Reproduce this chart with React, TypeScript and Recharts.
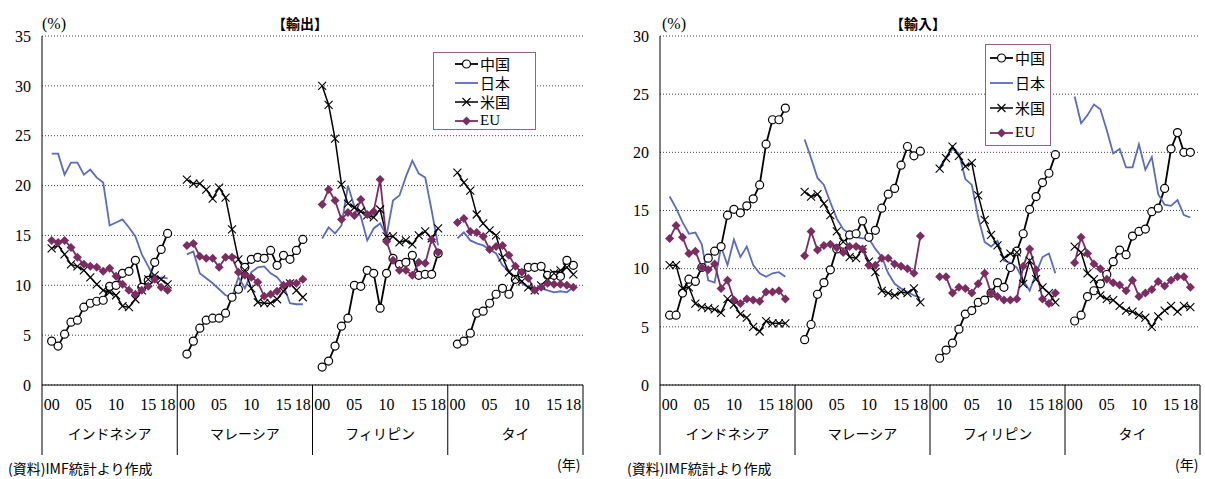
import React from 'react';
import { LineChart, Line, XAxis, YAxis, CartesianGrid } from 'recharts';

const countries = ['インドネシア', 'マレーシア', 'フィリピン', 'タイ'];
const years = ['00', '01', '02', '03', '04', '05', '06', '07', '08', '09', '10', '11', '12', '13', '14', '15', '16', '17', '18'];
const yearLabels = ['00', '05', '10', '15', '18'];
const exportTicks = [0, 5, 10, 15, 20, 25, 30, 35];
const importTicks = [0, 5, 10, 15, 20, 25, 30];

// 輸出シェア (%), one row per country, 2000-2018
const exportChina = [
  [4.4, 3.9, 5.1, 6.3, 6.5, 7.8, 8.2, 8.4, 8.5, 9.9, 10.0, 11.2, 11.4, 12.5, 9.8, 10.5, 12.3, 13.6, 15.2],
  [3.1, 4.4, 5.7, 6.5, 6.7, 6.7, 7.2, 8.8, 9.6, 11.8, 12.6, 12.8, 12.7, 13.5, 12.0, 13.0, 12.6, 13.5, 14.6],
  [1.8, 2.4, 3.9, 5.9, 6.7, 10.0, 9.9, 11.5, 11.2, 7.7, 11.2, 12.7, 12.1, 12.3, 13.0, 11.0, 11.1, 11.1, 13.2],
  [4.1, 4.4, 5.2, 7.2, 7.4, 8.2, 9.1, 9.7, 9.1, 10.6, 11.2, 11.8, 11.8, 11.9, 11.0, 11.0, 10.9, 12.5, 12.0],
];
const exportJapan = [
  [23.2, 23.2, 21.1, 22.3, 22.3, 21.1, 21.6, 20.8, 20.3, 16.0, 16.3, 16.6, 15.8, 14.9, 13.1, 11.9, 10.6, 10.8, 10.7],
  [13.1, 13.4, 11.2, 10.7, 10.2, 9.6, 9.0, 8.8, 10.8, 9.7, 11.3, 11.8, 11.9, 11.2, 10.8, 10.0, 8.2, 8.1, 8.1],
  [14.7, 15.8, 15.2, 16.0, 20.0, 17.9, 16.9, 14.5, 15.7, 16.2, 15.0, 18.5, 19.0, 20.9, 22.5, 21.2, 20.8, 17.5, 14.0],
  [14.7, 15.3, 14.5, 14.2, 14.0, 13.6, 13.2, 12.0, 11.5, 10.5, 10.2, 9.8, 9.7, 9.7, 9.5, 9.3, 9.4, 9.3, 9.8],
];
const exportUS = [
  [13.7, 14.0, 13.1, 12.1, 11.9, 11.5, 10.8, 10.1, 9.5, 9.3, 9.0, 7.9, 7.8, 8.6, 9.5, 10.6, 11.0, 10.6, 10.1],
  [20.6, 20.2, 20.2, 19.6, 18.7, 19.8, 18.8, 15.6, 12.6, 11.5, 9.7, 8.3, 8.2, 8.2, 8.6, 9.4, 10.2, 9.5, 8.8],
  [30.0, 28.1, 24.7, 20.1, 18.2, 17.8, 17.4, 17.0, 16.8, 17.6, 14.9, 14.9, 14.3, 14.5, 14.1, 15.0, 15.4, 14.7, 15.7],
  [21.3, 20.3, 19.5, 17.1, 16.2, 15.5, 15.0, 12.8, 11.3, 10.8, 10.4, 9.8, 9.5, 10.0, 10.6, 11.2, 11.5, 11.8, 11.1],
];
const exportEU = [
  [14.5, 14.3, 14.5, 13.8, 12.8, 12.1, 11.9, 11.8, 11.4, 11.7, 10.9, 10.1, 9.5, 9.1, 9.5, 9.9, 10.6, 9.8, 9.5],
  [14.0, 14.2, 12.9, 12.7, 12.7, 11.8, 12.8, 12.8, 11.3, 11.0, 10.8, 10.3, 8.9, 9.1, 9.4, 10.0, 10.2, 10.2, 10.6],
  [18.1, 19.6, 18.5, 16.6, 17.3, 17.0, 18.6, 17.1, 17.4, 20.6, 14.4, 12.5, 11.5, 11.5, 11.0, 12.3, 12.2, 14.6, 13.3],
  [16.3, 16.7, 15.4, 15.3, 14.9, 13.6, 13.9, 14.0, 13.0, 11.9, 11.3, 10.7, 9.5, 9.8, 10.2, 10.1, 10.1, 10.0, 9.8],
];

// 輸入シェア (%)
const importChina = [
  [6.0, 6.0, 7.9, 9.1, 8.9, 10.1, 10.9, 11.5, 11.9, 14.6, 15.1, 14.8, 15.4, 16.0, 17.2, 20.7, 22.8, 22.8, 23.8],
  [3.9, 5.2, 7.8, 8.8, 9.9, 11.7, 12.1, 12.9, 13.0, 14.1, 12.7, 13.3, 15.2, 16.4, 16.9, 18.9, 20.5, 19.7, 20.1],
  [2.3, 3.0, 3.6, 4.8, 6.1, 6.4, 7.1, 7.3, 7.9, 8.8, 8.4, 10.1, 11.5, 13.0, 15.1, 16.2, 17.4, 18.2, 19.8],
  [5.5, 6.0, 7.6, 8.1, 8.7, 9.5, 10.6, 11.6, 11.2, 12.8, 13.2, 13.4, 14.9, 15.2, 16.9, 20.3, 21.7, 20.0, 20.0],
];
const importJapan = [
  [16.2, 15.2, 14.0, 13.0, 13.1, 12.1, 9.0, 8.8, 11.9, 10.3, 12.5, 11.0, 11.9, 10.3, 9.6, 9.3, 9.6, 9.7, 9.3],
  [21.1, 19.5, 17.8, 17.2, 15.7, 14.3, 13.4, 13.0, 12.7, 12.6, 12.6, 11.7, 11.0, 9.6, 8.7, 8.3, 8.0, 7.7, 7.5],
  [18.7, 19.6, 20.3, 19.9, 17.7, 17.2, 14.4, 12.3, 11.9, 12.4, 10.7, 10.5, 10.1, 9.0, 8.1, 9.6, 11.0, 11.3, 9.6],
  [24.8, 22.5, 23.2, 24.1, 23.7, 21.9, 19.9, 20.3, 18.7, 18.7, 20.7, 18.5, 19.6, 16.4, 15.5, 15.4, 15.9, 14.6, 14.4],
];
const importUS = [
  [10.3, 10.3, 8.3, 8.4, 7.0, 6.7, 6.6, 6.5, 6.2, 7.4, 6.9, 6.1, 5.8, 5.0, 4.6, 5.5, 5.3, 5.3, 5.3],
  [16.6, 16.2, 16.4, 15.6, 14.6, 13.2, 12.3, 11.0, 10.9, 11.7, 10.6, 9.7, 8.1, 7.9, 7.7, 8.0, 7.9, 8.3, 7.1],
  [18.6, 19.5, 20.5, 19.7, 18.8, 19.1, 16.3, 14.2, 12.9, 12.0, 10.9, 11.3, 11.4, 8.7, 10.7, 9.1, 8.4, 7.9, 7.1],
  [11.9, 11.4, 9.6, 9.1, 7.7, 7.4, 7.3, 6.8, 6.4, 6.3, 6.0, 5.8, 5.0, 5.9, 6.4, 6.8, 6.3, 6.8, 6.7],
];
const importEU = [
  [12.6, 13.7, 12.7, 11.3, 11.5, 10.1, 9.9, 10.4, 8.3, 9.0, 7.3, 7.0, 7.4, 7.3, 7.2, 8.0, 8.0, 8.1, 7.4],
  [11.1, 13.2, 11.6, 12.0, 12.1, 11.8, 11.4, 11.9, 11.9, 11.7, 10.3, 10.3, 10.9, 10.9, 10.4, 10.2, 10.0, 9.6, 12.8],
  [9.3, 9.3, 7.9, 8.4, 8.3, 7.9, 8.7, 9.6, 7.9, 7.6, 7.3, 7.3, 7.4, 10.2, 11.7, 9.9, 7.4, 7.0, 7.9],
  [10.5, 12.7, 11.3, 10.4, 10.0, 9.1, 8.8, 8.6, 8.1, 9.0, 7.6, 7.9, 8.2, 8.9, 8.5, 9.0, 9.3, 9.3, 8.4],
];

const SERIF = '"Liberation Serif", "Times New Roman", serif';
const JP = '"Noto Sans CJK JP", sans-serif';

const series = [
  { key: 'china', name: '中国', color: '#000000', width: 1.8, marker: 'circle' },
  { key: 'japan', name: '日本', color: '#5b6bbf', width: 1.8, marker: 'none' },
  { key: 'us', name: '米国', color: '#000000', width: 1.5, marker: 'cross' },
  { key: 'eu', name: 'EU', color: '#7b2d62', width: 1.8, marker: 'diamond' },
];

// each country block: one empty slot, 19 years, one empty slot
const slots = years.length + 2;
const totalSlots = slots * countries.length;

function buildRows(sets: Record<string, number[][]>) {
  const rows: any[] = [];
  countries.forEach((_, g) => {
    years.forEach((_, i) => {
      const row: any = { x: g * slots + 1.5 + i };
      series.forEach((s) => (row[s.key] = sets[s.key][g][i]));
      rows.push(row);
    });
    if (g < countries.length - 1) {
      const gap: any = { x: (g + 1) * slots };
      series.forEach((s) => (gap[s.key] = null));
      rows.push(gap);
    }
  });
  return rows;
}

const exportRows = buildRows({ china: exportChina, japan: exportJapan, us: exportUS, eu: exportEU });
const importRows = buildRows({ china: importChina, japan: importJapan, us: importUS, eu: importEU });

const tickInfo = new Map<number, { kind: string; label: string }>();
countries.forEach((c, g) => {
  tickInfo.set(g * slots, { kind: 'sep', label: '' });
  yearLabels.forEach((y) => tickInfo.set(g * slots + 1.5 + years.indexOf(y), { kind: 'year', label: y }));
  tickInfo.set(g * slots + slots / 2, { kind: 'group', label: c });
});
tickInfo.set(totalSlots, { kind: 'sep', label: '' });
const xTicks = Array.from(tickInfo.keys()).sort((a, b) => a - b);

function BottomTick(props: any) {
  const { x, y, payload } = props;
  const t = tickInfo.get(payload.value);
  if (!t) return null;
  if (t.kind === 'sep') return <line x1={x} x2={x} y1={y} y2={y + 70} stroke="#000" strokeWidth={1} />;
  if (t.kind === 'year')
    return (
      <text x={x} y={y + 25} textAnchor="middle" fontFamily={SERIF} fontSize={16} fill="#000">
        {t.label}
      </text>
    );
  return (
    <text x={x} y={y + 54} textAnchor="middle" fontFamily={JP} fontSize={14} fill="#000">
      {t.label}
    </text>
  );
}

function Marker({ type, cx, cy, color }: any) {
  if (type === 'circle') return <circle cx={cx} cy={cy} r={4} fill="#fff" stroke={color} strokeWidth={1.2} />;
  if (type === 'cross')
    return (
      <path
        d={`M${cx - 4},${cy - 4}L${cx + 4},${cy + 4}M${cx - 4},${cy + 4}L${cx + 4},${cy - 4}`}
        stroke={color}
        strokeWidth={1.1}
        fill="none"
      />
    );
  if (type === 'diamond') return <path d={`M${cx},${cy - 4.5}L${cx + 4.5},${cy}L${cx},${cy + 4.5}L${cx - 4.5},${cy}Z`} fill={color} />;
  return null;
}

function makeDot(s: any) {
  return (p: any) => {
    if (p.value == null || !Number.isFinite(p.cy)) return <g key={`${s.key}-${p.index}`} />;
    return (
      <g key={`${s.key}-${p.index}`}>
        <Marker type={s.marker} cx={p.cx} cy={p.cy} color={s.color} />
      </g>
    );
  };
}

function Panel({ left, width, yWidth, right, ticks, rows }: any) {
  return (
    <div style={{ position: 'absolute', left, top: 0 }}>
      <LineChart width={width} height={479} data={rows} margin={{ top: 36, right, bottom: 14, left: 0 }}>
        <CartesianGrid vertical={false} stroke="#444" strokeDasharray="1 2" />
        <XAxis
          type="number"
          dataKey="x"
          domain={[0, totalSlots]}
          ticks={xTicks}
          interval={0}
          height={80}
          tickLine={false}
          tickSize={0}
          tickMargin={0}
          axisLine={{ stroke: '#000' }}
          tick={<BottomTick />}
        />
        <YAxis
          type="number"
          domain={[0, ticks[ticks.length - 1]]}
          ticks={ticks}
          interval={0}
          width={yWidth}
          tickLine={false}
          tickMargin={5}
          axisLine={{ stroke: '#000' }}
          tick={{ fontFamily: SERIF, fontSize: 16, fill: '#000' }}
        />
        {series.map((s) => (
          <Line
            key={s.key}
            type="linear"
            dataKey={s.key}
            stroke={s.color}
            strokeWidth={s.width}
            dot={s.marker === 'none' ? false : makeDot(s)}
            activeDot={false}
            connectNulls={false}
            isAnimationActive={false}
          />
        ))}
      </LineChart>
    </div>
  );
}

function LegendBox({ left, top, width, height, rowHeight, padTop, padLeft }: any) {
  return (
    <div
      style={{
        position: 'absolute',
        left,
        top,
        width,
        height,
        boxSizing: 'border-box',
        border: '1.5px solid #946283',
        background: '#fff',
        paddingTop: padTop,
        paddingLeft: padLeft,
      }}
    >
      {series.map((s) => (
        <div key={s.key} style={{ height: rowHeight, display: 'flex', alignItems: 'center' }}>
          <svg width={23} height={12} style={{ display: 'block' }}>
            <line x1={0} x2={23} y1={6} y2={6} stroke={s.color} strokeWidth={s.width} />
            <Marker type={s.marker} cx={11.5} cy={6} color={s.color} />
          </svg>
          <span style={{ marginLeft: 2, fontFamily: s.key === 'eu' ? SERIF : JP, fontSize: 15, lineHeight: 1, color: '#000' }}>
            {s.name}
          </span>
        </div>
      ))}
    </div>
  );
}

export default function App() {
  return (
    <div style={{ position: 'absolute', left: 0, top: 0, width: 1205, height: 479, background: '#fff', overflow: 'hidden' }}>
      <svg width={1205} height={479} style={{ position: 'absolute', left: 0, top: 0 }}>
        <text x={42} y={29} fontFamily={SERIF} fontSize={16} fill="#000">(%)</text>
        <text x={300} y={29} textAnchor="middle" fontFamily={JP} fontWeight="bold" fontSize={14} fill="#000">【輸出】</text>
        <text x={662} y={29} fontFamily={SERIF} fontSize={16} fill="#000">(%)</text>
        <text x={918} y={29} textAnchor="middle" fontFamily={JP} fontWeight="bold" fontSize={14} fill="#000">【輸入】</text>
        <text x={8} y={474} fontFamily={JP} fontSize={14} fill="#000">(資料)IMF統計より作成</text>
        <text x={627} y={474} fontFamily={JP} fontSize={14} fill="#000">(資料)IMF統計より作成</text>
        <text x={557} y={470} fontFamily={JP} fontSize={14} fill="#000">(年)</text>
        <text x={1175} y={470} fontFamily={JP} fontSize={14} fill="#000">(年)</text>
      </svg>
      <Panel left={0} width={600} yWidth={42} right={17} ticks={exportTicks} rows={exportRows} />
      <Panel left={600} width={605} yWidth={60} right={5} ticks={importTicks} rows={importRows} />
      <LegendBox left={433} top={52} width={103} height={78} rowHeight={19} padTop={1} padLeft={21} />
      <LegendBox left={985} top={44} width={66} height={102} rowHeight={25} padTop={0} padLeft={4} />
    </div>
  );
}
